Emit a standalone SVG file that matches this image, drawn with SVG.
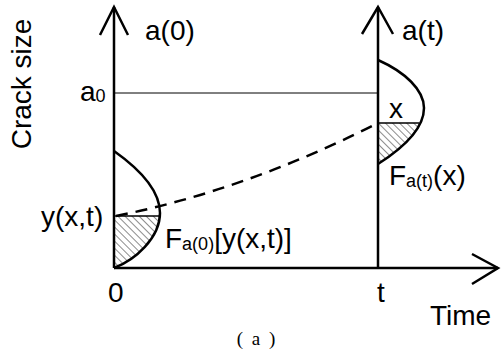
<svg xmlns="http://www.w3.org/2000/svg" width="502" height="351" viewBox="0 0 502 351">
<style>
.t{font-family:"Liberation Sans",Arial,sans-serif;font-size:28px;fill:#000}
.s{font-size:18px}
.ax{fill:none;stroke:#000;stroke-width:2.5}
.thin{fill:none;stroke:#000;stroke-width:1}
.dist{fill:none;stroke:#000;stroke-width:2.5}
.dash{fill:none;stroke:#000;stroke-width:2.5;stroke-dasharray:12 8}
</style>
<defs>
<pattern id="hatch" width="5" height="5" patternUnits="userSpaceOnUse" patternTransform="rotate(-45)">
<line x1="0" y1="0" x2="0" y2="5" stroke="#000" stroke-width="0.9"/>
</pattern>
<clipPath id="clipL"><rect x="100" y="216" width="80" height="60"/></clipPath>
<clipPath id="clipR"><rect x="370" y="123" width="80" height="50"/></clipPath>
</defs>
<rect width="502" height="351" fill="#fff"/>
<g id="axes">
<line class="ax" x1="114" y1="7" x2="114" y2="268"/>
<polyline class="ax" points="100,35 114,7 128,35"/>
<line class="ax" x1="378" y1="7" x2="378" y2="268"/>
<polyline class="ax" points="362,34 378,7 393,34"/>
<line class="ax" x1="114" y1="268" x2="498" y2="268"/>
<polyline class="ax" points="472,254 498,268 472,284"/>
<line class="thin" x1="114" y1="93" x2="378" y2="93"/>
</g>
<g id="dist-left">
<path d="M114,151 C138,168 160,190 160,213 C160,238 135,260 114,268 Z" fill="url(#hatch)" clip-path="url(#clipL)"/>
<path class="dist" d="M114,151 C138,168 160,190 160,213 C160,238 135,260 114,268"/>
<line x1="114" y1="216" x2="160" y2="216" stroke="#000" stroke-width="1.5"/>
</g>
<g id="dist-right">
<path d="M378,60 C405,72 424,90 424,108 C424,130 400,150 378,164 Z" fill="url(#hatch)" clip-path="url(#clipR)"/>
<path class="dist" d="M378,60 C405,72 424,90 424,108 C424,130 400,150 378,164"/>
<line x1="378" y1="123" x2="419" y2="123" stroke="#000" stroke-width="1.5"/>
</g>
<g id="connectors">
<path class="dash" d="M116,216 Q246,190 378,123"/>
</g>
<g id="labels">
<text class="t" transform="translate(31,84) rotate(-90)" text-anchor="middle">Crack size</text>
<text class="t" x="145" y="40">a(0)</text>
<text class="t" x="402" y="40">a(t)</text>
<text class="t" x="80" y="101">a<tspan class="s" dy="1">0</tspan></text>
<text class="t" x="389" y="118">x</text>
<text class="t" x="41" y="226">y(x,t)</text>
<text class="t" x="165" y="248">F<tspan class="s" dy="2">a(0)</tspan><tspan dy="-2">[y(x,t)]</tspan></text>
<text class="t" x="389" y="185">F<tspan class="s" dy="2">a(t)</tspan><tspan dy="-2">(x)</tspan></text>
<text class="t" x="108" y="302">0</text>
<text class="t" x="377" y="302">t</text>
<text class="t" x="430" y="325">Time</text>
<text x="257" y="345" text-anchor="middle" font-family="Liberation Serif,serif" font-size="19" letter-spacing="2">( a )</text>
</g>
</svg>
